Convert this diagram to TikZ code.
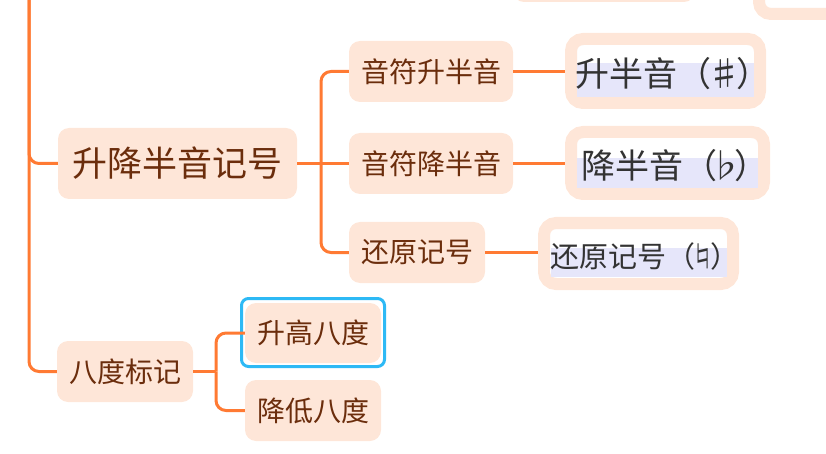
\documentclass[tikz,border=0pt]{standalone}
\usepackage{fontspec}
\newfontfamily\cjk{Noto Sans CJK SC}
\definecolor{peach}{HTML}{FEE6D8}
\definecolor{conn}{HTML}{FF7A33}
\definecolor{brown}{HTML}{6B2D0C}
\definecolor{lav}{HTML}{E6E6FA}
\definecolor{selblue}{HTML}{2DB9F5}
\definecolor{darktext}{HTML}{333333}
\newcommand\musym[2]{\makebox[#1em]{#2}}
\tikzset{
  topic/.style={fill=peach, rounded corners=11pt, inner sep=0pt, text=brown, font=\cjk\fontsize{28}{28}\selectfont},
  bigtopic/.style={topic, font=\cjk\fontsize{35}{35}\selectfont},
  framed/.style={draw=peach, line width=12pt, fill=white, rounded corners=12pt, inner sep=0pt},
  ftext/.style={inner sep=0pt, text=darktext},
  link/.style={draw=conn, line width=3pt, rounded corners=10pt},
  hl/.style={fill=lav, draw=none, inner sep=0pt}
}
\begin{document}
\begin{tikzpicture}[x=1pt,y=-1pt]
\useasboundingbox (0,0) rectangle (826,454);
% partial nodes at the top
\node[topic, minimum width=182pt, minimum height=60pt] (top1) at (604,-28) {};
\node[framed, minimum width=120pt, minimum height=58pt] (top2) at (819,-15) {};
% main topics
\node[bigtopic, minimum width=239pt, minimum height=71pt] (r1) at (177.5,163.5) {升降半音记号};
\node[topic, minimum width=136pt, minimum height=61pt] (r2) at (125,371.5) {八度标记};
% children of r1
\node[topic, minimum width=164pt, minimum height=61pt] (a1) at (431,71.5) {音符升半音};
\node[topic, minimum width=164pt, minimum height=61pt] (a2) at (431,163.5) {音符降半音};
\node[topic, minimum width=136pt, minimum height=61pt] (a3) at (417,252.5) {还原记号};
% children of r2
\node[topic, minimum width=136pt, minimum height=60pt] (b1) at (313,333) {升高八度};
\node[topic, minimum width=136pt, minimum height=61pt] (b2) at (313,410.5) {降低八度};
\node[draw=selblue, line width=3pt, rounded corners=7pt, minimum width=143pt, minimum height=68pt, inner sep=0pt] (sel) at (313,332.5) {};
% framed leaves
\node[framed, minimum width=189pt, minimum height=64pt] (c1) at (665.5,71) {};
\node[hl, minimum width=177pt, minimum height=34pt] (h1) at (665.5,80) {};
\node[ftext, font=\cjk\fontsize{34}{34}\selectfont] (c1t) at (673,74) {升半音（\musym{0.75}{♯}）};
\node[framed, minimum width=193pt, minimum height=62pt] (c2) at (667.5,163) {};
\node[hl, minimum width=181pt, minimum height=30pt] (h2) at (667.5,173) {};
\node[ftext, font=\cjk\fontsize{34}{34}\selectfont] (c2t) at (674.5,166) {降半音（\musym{0.5}{♭}）};
\node[framed, minimum width=189pt, minimum height=61pt] (c3) at (638.5,253.5) {};
\node[hl, minimum width=176pt, minimum height=29pt] (h3) at (639,262.5) {};
\node[ftext, font=\cjk\fontsize{29}{29}\selectfont] (c3t) at (645,256) {还原记号（\musym{0.5}{♮}）};
% connectors
\coordinate (trunk) at (29,-5);
\coordinate (j1) at (321,163.5);
\coordinate (j2) at (216,371.5);
\draw[link] (trunk) |- (r1.west);
\draw[link] (trunk) |- (r2.west);
\draw[link] (r1.east) -- (j1);
\draw[link] (j1) |- (a1.west);
\draw[link] (j1) |- (a3.west);
\draw[link] (j1) -- (a2.west);
\draw[link] (a1.east) -- (a1.east -| c1.west);
\draw[link] (a2.east) -- (a2.east -| c2.west);
\draw[link] (a3.east) -- (a3.east -| c3.west);
\draw[link] (r2.east) -- (j2);
\draw[link] (j2) |- (b1.west);
\draw[link] (j2) |- (b2.west);
\end{tikzpicture}
\end{document}
